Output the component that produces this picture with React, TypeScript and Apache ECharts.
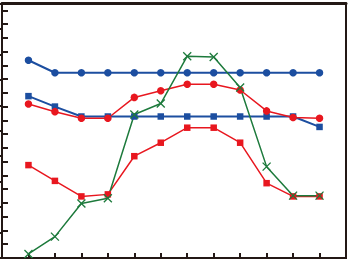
import React, { useEffect, useRef } from "react";
import * as echarts from "echarts";

const xPositions = [1, 2, 3, 4, 5, 6, 7, 8, 9, 10, 11, 12];
const blueCircles = [7.77, 7.28, 7.28, 7.28, 7.28, 7.28, 7.28, 7.28, 7.28, 7.28, 7.28, 7.28];
const blueSquares = [6.36, 5.95, 5.56, 5.56, 5.56, 5.56, 5.56, 5.56, 5.56, 5.56, 5.56, 5.15];
const redCircles = [6.05, 5.75, 5.49, 5.49, 6.31, 6.57, 6.83, 6.83, 6.6, 5.78, 5.52, 5.49];
const redSquares = [3.65, 3.03, 2.42, 2.5, 4.0, 4.53, 5.12, 5.12, 4.53, 2.94, 2.42, 2.42];
const greenCrosses = [0.16, 0.84, 2.14, 2.35, 5.64, 6.07, 7.93, 7.9, 6.7, 3.59, 2.45, 2.45];

const INK = "#231815";
const BLUE = "#1c4ea0";
const RED = "#e8171f";
const GREEN = "#1d7a3c";

const pair = (ys: number[]) => ys.map((y, i) => [xPositions[i], y]);

export default function App() {
  const ref = useRef<HTMLDivElement>(null);
  useEffect(() => {
    if (!ref.current) return;
    const chart = echarts.init(ref.current, undefined, { renderer: "svg" });
    const tick = (len: number) => ({
      show: true,
      inside: true,
      length: len,
      lineStyle: { color: INK, width: 2 },
    });
    chart.setOption({
      animation: false,
      grid: {
        left: 2,
        top: 3.5,
        width: 344,
        height: 254.5,
        show: true,
        borderColor: INK,
        borderWidth: 2,
        backgroundColor: "transparent",
      },
      xAxis: [
        {
          type: "value",
          min: 0,
          max: 13,
          interval: 1,
          axisLine: { show: false },
          axisTick: tick(5),
          axisLabel: { show: false },
          splitLine: { show: false },
        },
        {
          type: "value",
          position: "top",
          min: 0,
          max: 13,
          interval: 1,
          axisLine: { show: true, onZero: false, lineStyle: { color: INK, width: 3 } },
          axisTick: { show: false },
          axisLabel: { show: false },
          splitLine: { show: false },
        },
      ],
      yAxis: [
        {
          type: "value",
          position: "left",
          min: 0,
          max: 18.5,
          interval: 1,
          axisLine: { show: false },
          axisTick: tick(6),
          axisLabel: { show: false },
          splitLine: { show: false },
        },
        {
          type: "value",
          position: "right",
          min: 0,
          max: 10,
          interval: 1,
          axisLine: { show: false },
          axisTick: tick(5),
          axisLabel: { show: false },
          splitLine: { show: false },
        },
      ],
      series: [
        {
          type: "line",
          yAxisIndex: 1,
          data: pair(blueCircles),
          symbol: "circle",
          symbolSize: 7.5,
          lineStyle: { color: BLUE, width: 2 },
          itemStyle: { color: BLUE },
        },
        {
          type: "line",
          yAxisIndex: 1,
          data: pair(blueSquares),
          symbol: "rect",
          symbolSize: 6.5,
          lineStyle: { color: BLUE, width: 2 },
          itemStyle: { color: BLUE },
        },
        {
          type: "line",
          yAxisIndex: 1,
          data: pair(redCircles),
          symbol: "circle",
          symbolSize: 7.5,
          lineStyle: { color: RED, width: 1.5 },
          itemStyle: { color: RED },
        },
        {
          type: "line",
          yAxisIndex: 1,
          data: pair(redSquares),
          symbol: "rect",
          symbolSize: 6.5,
          lineStyle: { color: RED, width: 1.5 },
          itemStyle: { color: RED },
        },
        {
          type: "line",
          yAxisIndex: 1,
          data: pair(greenCrosses),
          symbol: "path://M0,0L10,10M10,0L0,10",
          symbolSize: 8,
          lineStyle: { color: GREEN, width: 1.5 },
          itemStyle: { color: "none", borderColor: GREEN, borderWidth: 1.3 },
        },
      ],
    });
    return () => chart.dispose();
  }, []);
  return (
    <div
      ref={ref}
      style={{ position: "fixed", left: 0, top: 0, width: 351, height: 262, background: "#fff" }}
    />
  );
}
